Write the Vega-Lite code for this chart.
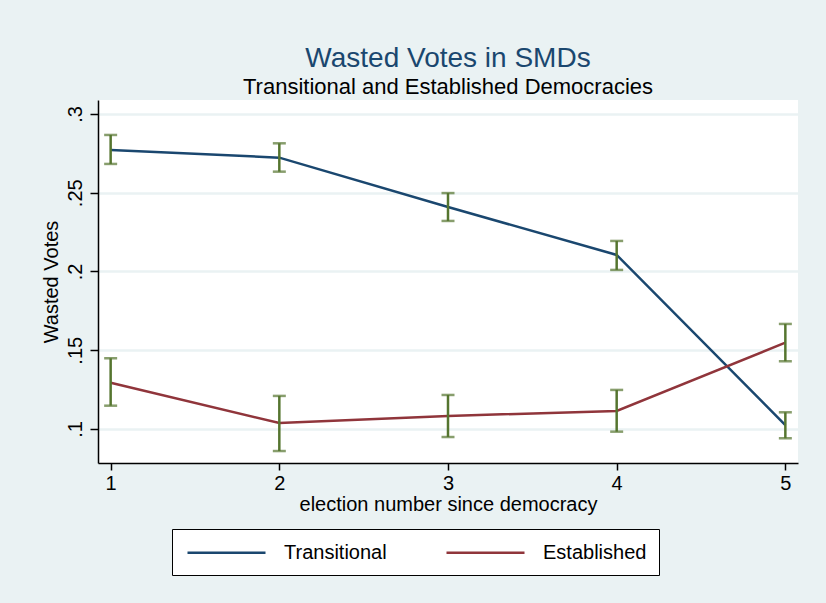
{
  "$schema": "https://vega.github.io/schema/vega-lite/v6.json",
  "width": 700,
  "height": 363,
  "autosize": {"type": "none"},
  "padding": {"left": 98, "top": 100, "right": 28, "bottom": 140},
  "background": "#eaf2f3",
  "title": {
    "text": "Wasted Votes in SMDs",
    "subtitle": "Transitional and Established Democracies",
    "color": "#1a476f",
    "fontSize": 28,
    "fontWeight": "normal",
    "font": "Liberation Sans",
    "subtitleColor": "#000000",
    "subtitleFontSize": 22,
    "subtitleFont": "Liberation Sans",
    "subtitlePadding": 4,
    "anchor": "middle",
    "frame": "group",
    "offset": 2
  },
  "data": {
    "values": [
      {"election": 1, "group": "Transitional", "mean": 0.2771, "lo": 0.2683, "hi": 0.2867},
      {"election": 2, "group": "Transitional", "mean": 0.2723, "lo": 0.2634, "hi": 0.2814},
      {"election": 3, "group": "Transitional", "mean": 0.2410, "lo": 0.2321, "hi": 0.2498},
      {"election": 4, "group": "Transitional", "mean": 0.2105, "lo": 0.2010, "hi": 0.2194},
      {"election": 5, "group": "Transitional", "mean": 0.1025, "lo": 0.0941, "hi": 0.1106},
      {"election": 1, "group": "Established", "mean": 0.1294, "lo": 0.1148, "hi": 0.1449},
      {"election": 2, "group": "Established", "mean": 0.1038, "lo": 0.0860, "hi": 0.1210},
      {"election": 3, "group": "Established", "mean": 0.1083, "lo": 0.0949, "hi": 0.1216},
      {"election": 4, "group": "Established", "mean": 0.1114, "lo": 0.0983, "hi": 0.1248},
      {"election": 5, "group": "Established", "mean": 0.1548, "lo": 0.1430, "hi": 0.1667}
    ]
  },
  "encoding": {
    "x": {
      "field": "election",
      "type": "quantitative",
      "scale": {"domain": [0.925, 5.075], "nice": false, "zero": false},
      "axis": {
        "title": "election number since democracy",
        "values": [1, 2, 3, 4, 5],
        "format": "d",
        "grid": false,
        "domainColor": "#000000",
        "domainWidth": 1.5,
        "tickColor": "#000000",
        "tickWidth": 1.5,
        "tickSize": 7,
        "labelFontSize": 20,
        "labelFont": "Liberation Sans",
        "labelColor": "#000000",
        "labelPadding": 3,
        "titleFontSize": 20,
        "titleFont": "Liberation Sans",
        "titleFontWeight": "normal",
        "titleColor": "#000000",
        "titlePadding": 1
      }
    }
  },
  "layer": [
    {
      "mark": {"type": "line", "strokeWidth": 2.5},
      "encoding": {
        "y": {
          "field": "mean",
          "type": "quantitative",
          "scale": {"domain": [0.0784, 0.3089], "nice": false, "zero": false},
          "axis": {
            "title": "Wasted Votes",
            "values": [0.1, 0.15, 0.2, 0.25, 0.3],
            "labelExpr": "replace(format(datum.value, '.2~f'), '0.', '.')",
            "labelAngle": -90,
            "labelAlign": "center",
            "labelBaseline": "bottom",
            "grid": true,
            "gridColor": "#eaf2f3",
            "gridWidth": 2.5,
            "domainColor": "#000000",
            "domainWidth": 1.5,
            "tickColor": "#000000",
            "tickWidth": 1.5,
            "tickSize": 8,
            "labelFontSize": 20,
            "labelFont": "Liberation Sans",
            "labelColor": "#000000",
            "labelPadding": 5,
            "titleFontSize": 20,
            "titleFont": "Liberation Sans",
            "titleFontWeight": "normal",
            "titleColor": "#000000",
            "titlePadding": 4
          }
        },
        "color": {
          "field": "group",
          "type": "nominal",
          "scale": {"domain": ["Transitional", "Established"], "range": ["#1a476f", "#90353b"]},
          "legend": {
            "title": null,
            "orient": "none",
            "legendX": 74,
            "legendY": 429,
            "direction": "horizontal",
            "columns": 2,
            "columnPadding": 54,
            "padding": 12,
            "fillColor": "#ffffff",
            "strokeColor": "#000000",
            "symbolType": "M-0.8,0H7",
            "symbolSize": 400,
            "symbolStrokeWidth": 2.5,
            "labelOffset": 77,
            "labelFontSize": 20,
            "labelFont": "Liberation Sans",
            "labelColor": "#000000",
            "labelLimit": 300
          }
        }
      }
    },
    {
      "mark": {"type": "rule", "color": "#55752f", "strokeWidth": 2.5},
      "encoding": {
        "y": {"field": "lo", "type": "quantitative"},
        "y2": {"field": "hi"}
      }
    },
    {
      "mark": {"type": "tick", "color": "#55752f", "orient": "horizontal", "size": 13, "thickness": 2.5},
      "encoding": {
        "y": {"field": "lo", "type": "quantitative"}
      }
    },
    {
      "mark": {"type": "tick", "color": "#55752f", "orient": "horizontal", "size": 13, "thickness": 2.5},
      "encoding": {
        "y": {"field": "hi", "type": "quantitative"}
      }
    }
  ],
  "config": {
    "view": {"fill": "#ffffff", "stroke": null},
    "font": "Liberation Sans"
  }
}
